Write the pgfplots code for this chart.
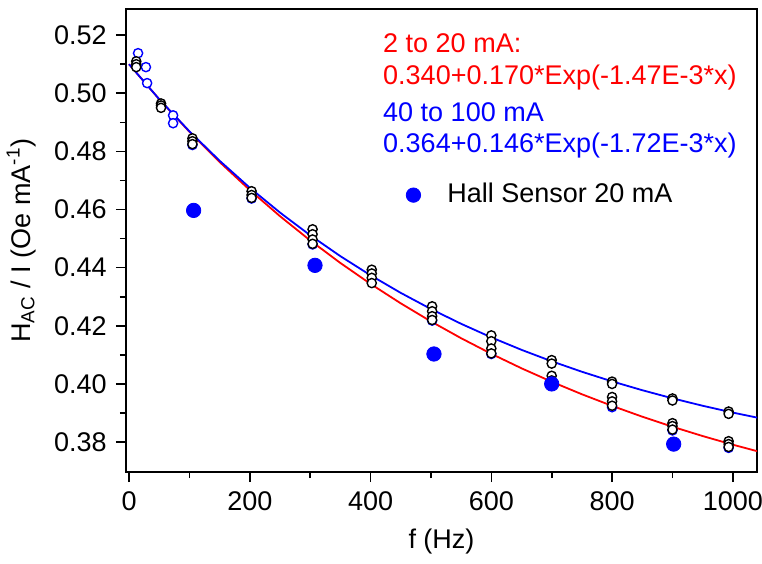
\documentclass[border=0pt]{standalone}
\usepackage{fontspec}
\setmainfont{Liberation Sans}
\usepackage{pgfplots}
\pgfplotsset{compat=1.18}
\pgfplotsset{hall legend/.style={legend image code/.code={\draw[##1] plot coordinates {(0bp,0bp)}; \path[draw=none, fill=none] (0bp,0bp) -- (15bp,0bp);}}}
\begin{document}
\fontsize{13.5bp}{16bp}\selectfont
\begin{tikzpicture}
\begin{axis}[
  scale only axis, width=315.5bp, height=231.5bp,
  xmin=-5, xmax=1040, ymin=0.3697, ymax=0.529,
  axis line style={line width=0.9bp},
  tick align=outside, xtick pos=bottom, ytick pos=left,
  xtick={0,200,400,600,800,1000}, minor x tick num=1,
  ytick={0.38,0.40,0.42,0.44,0.46,0.48,0.50,0.52}, minor y tick num=1,
  major tick length=5bp, minor tick length=3bp,
  every tick/.style={black, line width=0.8bp},
  /pgf/number format/assume math mode=true,
  yticklabel style={/pgf/number format/.cd, fixed, fixed zerofill, precision=2, assume math mode=true},
  xticklabel style={/pgf/number format/.cd, 1000 sep={}, assume math mode=true},
  ticklabel style={font=\fontsize{13.5bp}{16bp}\selectfont},
  label style={font=\fontsize{13.5bp}{16bp}\selectfont},
  xlabel={f (Hz)},
  ylabel={H\textsubscript{AC} / I (Oe mA\textsuperscript{-1})},
  legend style={at={(rel axis cs:0.434,0.598)}, anchor=west, draw=none, fill=none,
    font=\fontsize{13.5bp}{16bp}\selectfont},
  legend cell align=left,
]
% fit curves (sampled)
\addplot[red, line width=0.9bp, forget plot] coordinates {
(0,0.5100) (50,0.49795) (100,0.48676) (150,0.47636) (200,0.46670) (250,0.45772)
(300,0.44938) (350,0.44162) (400,0.43442) (450,0.42773) (500,0.42151) (550,0.41573)
(600,0.41037) (650,0.40538) (700,0.40075) (750,0.39645) (800,0.39245) (850,0.38873)
(900,0.38528) (950,0.38207) (1000,0.37909) (1050,0.37632)};
\addplot[blue, line width=0.9bp, forget plot] coordinates {
(0,0.5100) (50,0.49797) (100,0.48693) (150,0.47680) (200,0.46750) (250,0.45897)
(300,0.45115) (350,0.44396) (400,0.43738) (450,0.43133) (500,0.42578) (550,0.42069)
(600,0.41602) (650,0.41173) (700,0.40780) (750,0.40419) (800,0.40088) (850,0.39784)
(900,0.39505) (950,0.39249) (1000,0.39014) (1050,0.38799)};
% blue open circles
\addplot[only marks, mark=*, mark size=2.3bp, blue, mark options={line width=0.7bp, draw=blue, fill=white}, forget plot] coordinates {
(15,0.5138) (28,0.5090) (30,0.5035) (73,0.4924) (73,0.4897) (105,0.4822)
(203,0.4638) (304,0.4480) (502,0.4218) (600,0.4103) (700,0.3997) (800,0.3920)
(900,0.3840) (993,0.3780)};
% black open circles
\addplot[only marks, mark=*, mark size=2.3bp, black, mark options={line width=0.7bp, fill=white}, forget plot] table {
12 0.5110
12 0.5100
12 0.5090
53 0.4965
53 0.4958
53 0.4950
105 0.4845
105 0.4835
105 0.4825
203 0.4663
203 0.4650
203 0.4640
304 0.4532
304 0.4515
304 0.4497
304 0.4482
402 0.4393
402 0.4380
402 0.4365
402 0.4347
502 0.4267
502 0.4250
502 0.4233
502 0.4220
600 0.4167
600 0.4147
600 0.4122
600 0.4105
700 0.4082
700 0.4070
700 0.4028
700 0.4012
700 0.4000
800 0.4008
800 0.4000
800 0.3955
800 0.3940
800 0.3925
900 0.3950
900 0.3943
900 0.3865
900 0.3855
900 0.3843
993 0.3905
993 0.3897
993 0.3803
993 0.3793
993 0.3783
};
% Hall sensor
\addplot[only marks, mark=*, mark size=3.6bp, blue, mark options={draw=blue, fill=blue}, hall legend] coordinates {
(107,0.4597) (308,0.4408) (505,0.4103) (700,0.4000) (902,0.3793)};
\addlegendentry{Hall Sensor 20 mA}
\node[anchor=base west, inner sep=0pt, text=red] at (rel axis cs:0.407,0.905) {2 to 20 mA:};
\node[anchor=base west, inner sep=0pt, text=red] at (rel axis cs:0.407,0.838) {0.340+0.170*Exp(-1.47E-3*x)};
\node[anchor=base west, inner sep=0pt, text=blue] at (rel axis cs:0.407,0.756) {40 to 100 mA};
\node[anchor=base west, inner sep=0pt, text=blue] at (rel axis cs:0.407,0.691) {0.364+0.146*Exp(-1.72E-3*x)};
\end{axis}
\pgfresetboundingbox
\path (-63bp,-46bp) rectangle (318bp,236bp);
\end{tikzpicture}
\end{document}
